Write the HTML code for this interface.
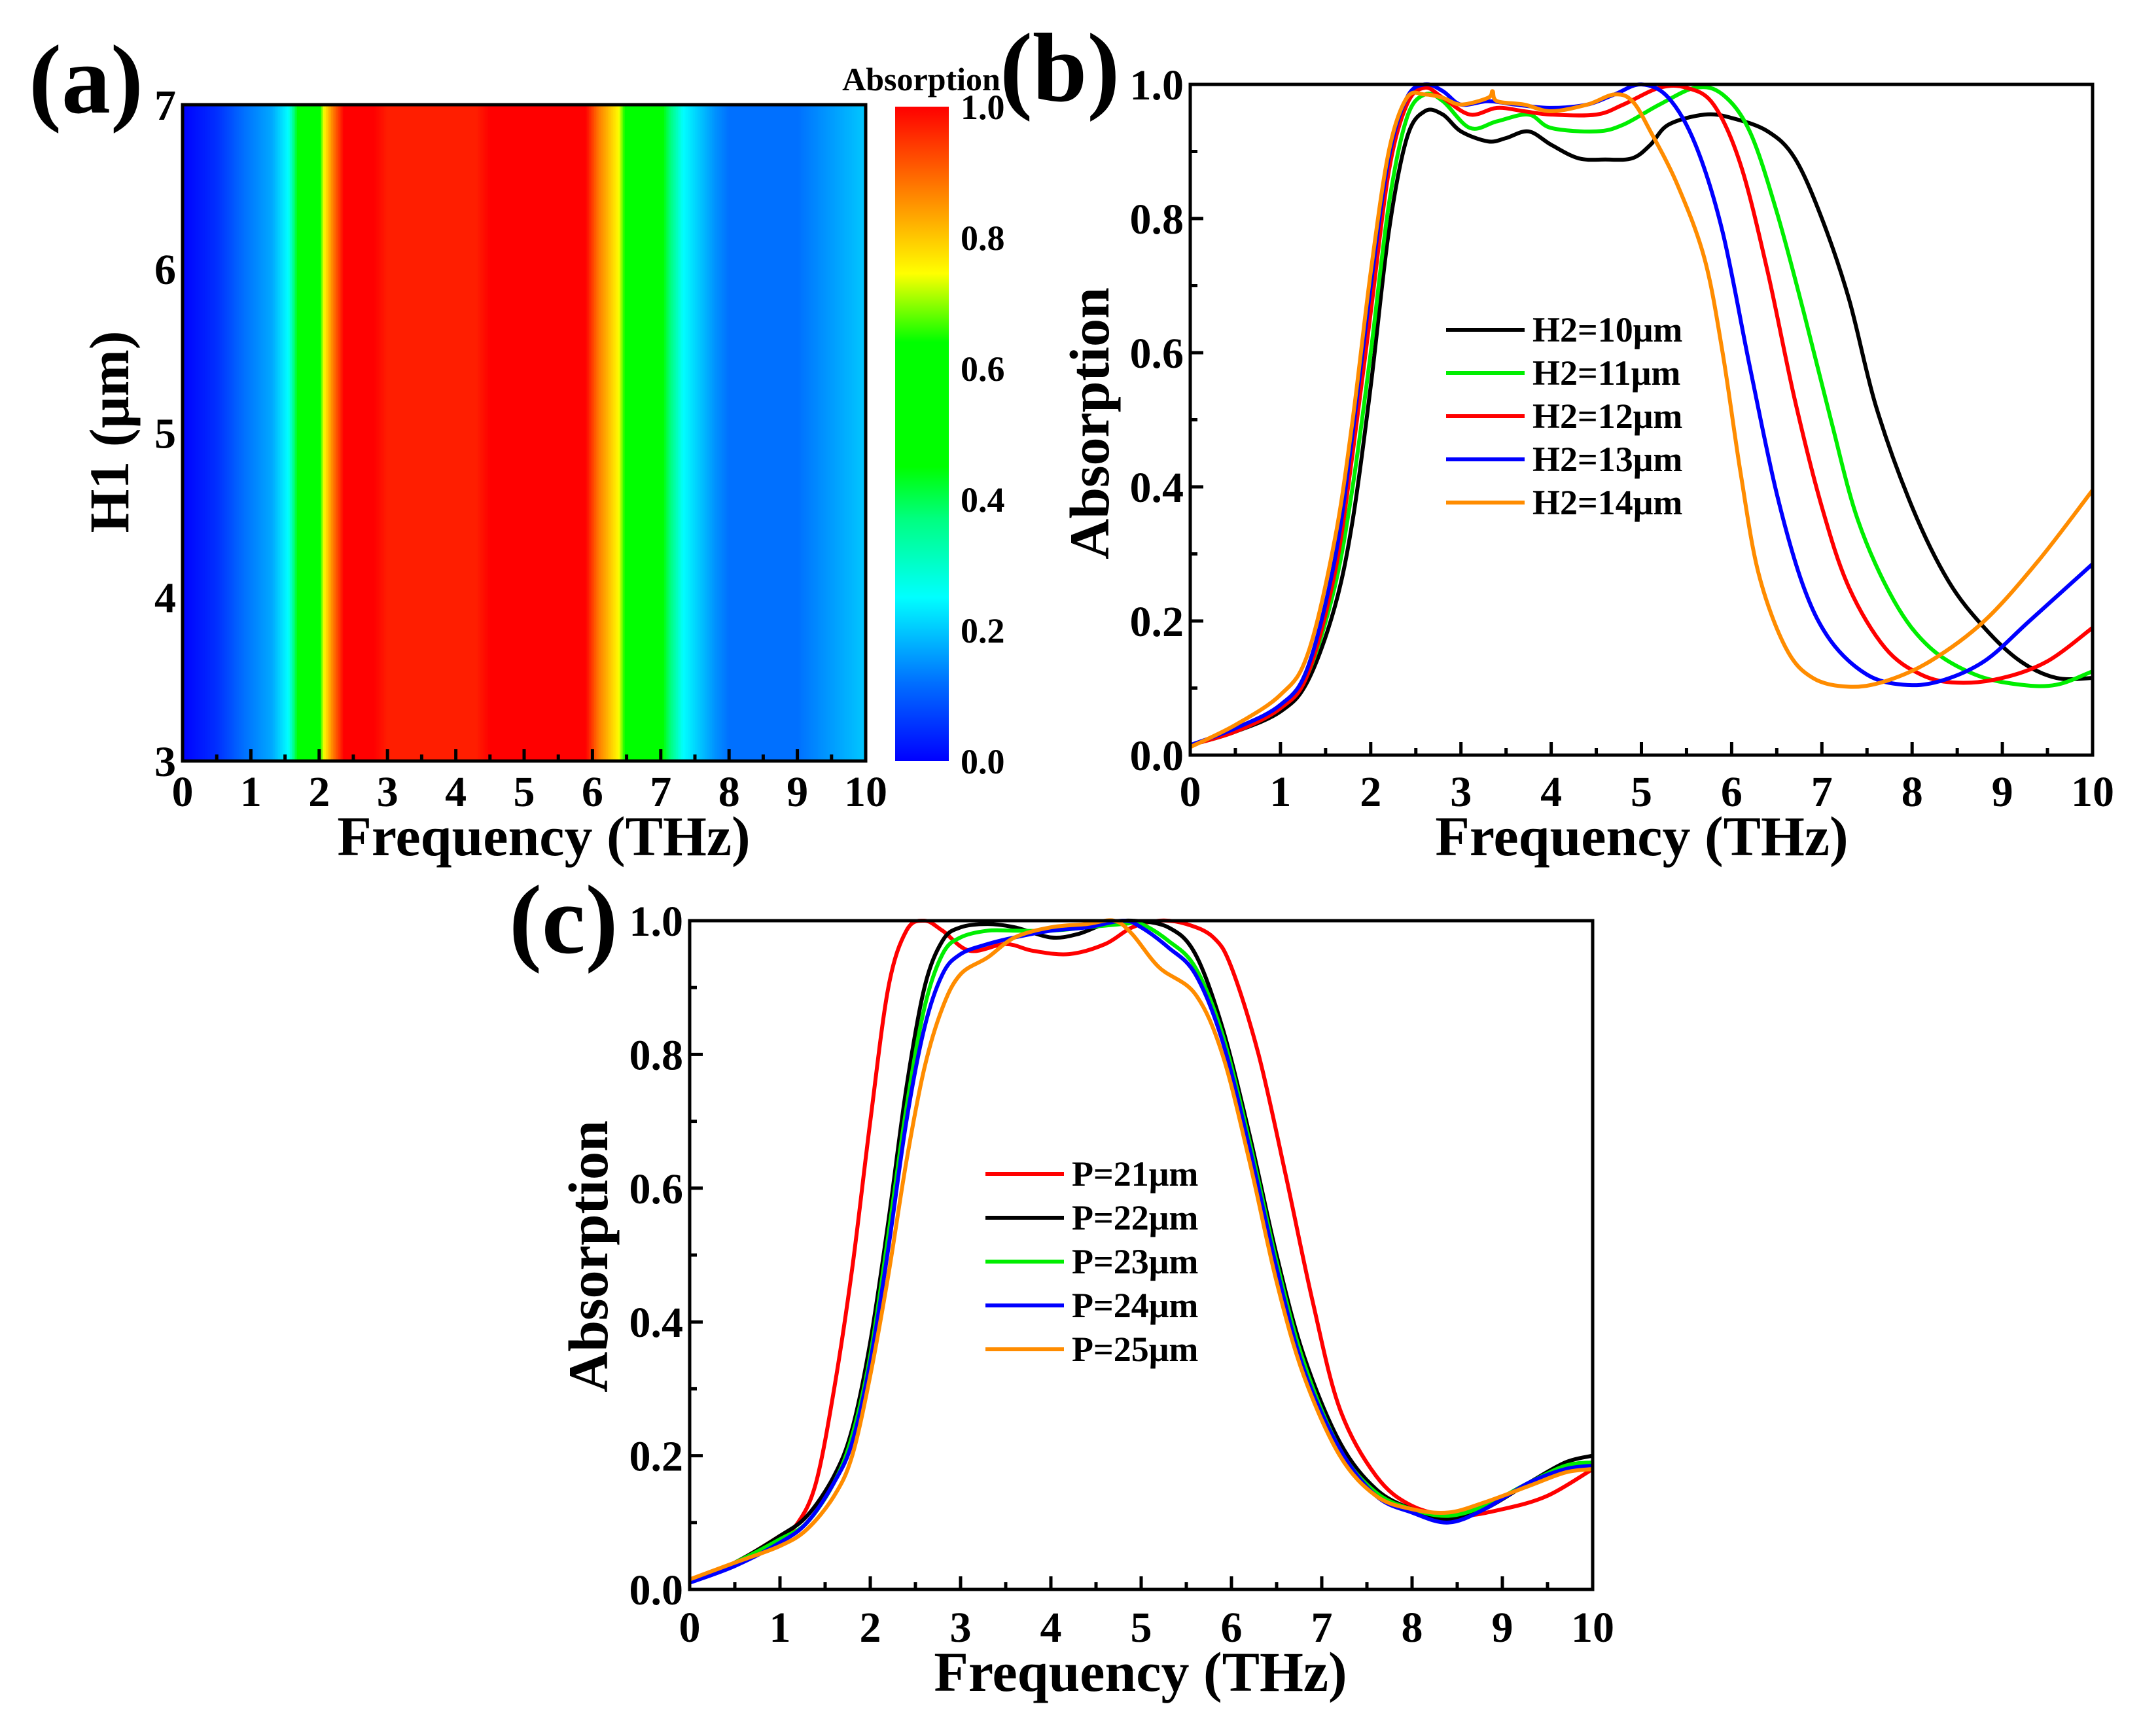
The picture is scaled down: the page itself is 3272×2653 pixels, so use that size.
<!DOCTYPE html>
<html><head><meta charset="utf-8">
<style>
html,body{margin:0;padding:0;background:#fff;}
svg{display:block;}
text{font-family:"Liberation Serif",serif;font-weight:bold;fill:#000;}
</style></head>
<body>
<svg id="fig" width="3272" height="2653" viewBox="0 0 3272 2653" xmlns="http://www.w3.org/2000/svg">
<defs>
<linearGradient id="cbg" x1="0" y1="1" x2="0" y2="0">
<stop offset="0" stop-color="#0000ff"/>
<stop offset="0.12" stop-color="#0070ff"/>
<stop offset="0.25" stop-color="#00ffff"/>
<stop offset="0.37" stop-color="#00ff80"/>
<stop offset="0.45" stop-color="#00ff00"/>
<stop offset="0.64" stop-color="#00ff00"/>
<stop offset="0.745" stop-color="#ffff00"/>
<stop offset="0.87" stop-color="#ff8000"/>
<stop offset="1" stop-color="#ff0000"/>
</linearGradient>
</defs>
<g id="pa"></g>
<g id="pb"></g>
<g id="pc"></g>
</svg>
<script>
// ---- Panel (a) heatmap data ----
const heatFreq = [0,0.5,0.9,1.3,1.55,1.75,1.97,2.07,2.2,2.36,2.8,3.0,4.3,4.5,5.9,6.1,6.38,6.55,6.9,7.1,7.33,7.8,8.0,9.0,10];
const heatVals = [0.0,0.05,0.12,0.17,0.25,0.55,0.55,0.75,0.87,1.0,1.0,0.97,0.97,1.0,1.0,0.87,0.75,0.55,0.55,0.4,0.25,0.15,0.12,0.12,0.2];
const heatYTicks = [3,4,5,6,7];
const cbTicks = ["0.0","0.2","0.4","0.6","0.8","1.0"];
const freqTicks = [0,1,2,3,4,5,6,7,8,9,10];
const absTicks = ["0.0","0.2","0.4","0.6","0.8","1.0"];

// ---- Panel (b) ----
const bNames = ["H2=10\u03bcm","H2=11\u03bcm","H2=12\u03bcm","H2=13\u03bcm","H2=14\u03bcm"];
const bColors = ["#000000","#00ee00","#ff0000","#0000ff","#ff8c00"];
const b10x = [0,0.5,1,1.3,1.6,1.8,2,2.2,2.4,2.6,2.8,3.0,3.3,3.5,3.75,4.0,4.3,4.6,4.9,5.1,5.3,5.7,6.0,6.4,6.7,7.0,7.3,7.6,8.0,8.4,8.8,9.2,9.6,10];
const b10y = [0.015,0.035,0.065,0.11,0.22,0.35,0.55,0.78,0.92,0.96,0.955,0.93,0.915,0.92,0.93,0.91,0.89,0.888,0.89,0.91,0.94,0.955,0.95,0.93,0.89,0.8,0.68,0.52,0.37,0.26,0.19,0.14,0.115,0.115];
const b11x = [0,0.5,1,1.3,1.6,1.8,2,2.2,2.4,2.6,2.8,3.1,3.4,3.75,4.0,4.5,4.8,5.2,5.6,5.9,6.2,6.5,6.8,7.1,7.4,7.8,8.2,8.7,9.2,9.6,10];
const b11y = [0.015,0.035,0.07,0.12,0.25,0.4,0.6,0.82,0.95,0.985,0.975,0.935,0.945,0.955,0.935,0.93,0.94,0.97,0.995,0.985,0.93,0.81,0.66,0.5,0.35,0.23,0.16,0.12,0.105,0.105,0.125];
const b12x = [0,0.5,1,1.3,1.6,1.8,2,2.2,2.4,2.6,2.8,3.1,3.4,3.7,4.0,4.5,4.8,5.2,5.5,5.8,6.1,6.4,6.7,7.0,7.3,7.7,8.1,8.5,9.0,9.5,10];
const b12y = [0.015,0.035,0.07,0.12,0.27,0.45,0.66,0.87,0.97,0.995,0.98,0.955,0.965,0.96,0.955,0.955,0.97,0.995,0.995,0.97,0.88,0.72,0.53,0.37,0.25,0.16,0.12,0.108,0.115,0.14,0.19];
const b13x = [0,0.5,1,1.3,1.6,1.8,2,2.2,2.4,2.6,2.8,3.0,3.3,3.6,4.0,4.4,4.7,5.0,5.3,5.6,5.9,6.2,6.5,6.8,7.1,7.5,7.9,8.3,8.8,9.3,10];
const b13y = [0.015,0.04,0.075,0.13,0.29,0.48,0.7,0.89,0.98,1.0,0.99,0.97,0.975,0.97,0.965,0.97,0.985,1.0,0.98,0.91,0.78,0.58,0.39,0.25,0.17,0.12,0.105,0.11,0.14,0.2,0.285];
const b14x = [0,0.5,1,1.3,1.6,1.8,2,2.2,2.4,2.6,2.8,3.0,3.3,3.35,3.4,3.7,4.0,4.4,4.7,4.9,5.1,5.4,5.7,5.9,6.1,6.3,6.6,6.9,7.3,7.7,8.2,8.8,9.4,10];
const b14y = [0.012,0.045,0.09,0.15,0.32,0.5,0.72,0.9,0.98,0.985,0.98,0.97,0.98,0.99,0.975,0.97,0.96,0.97,0.985,0.975,0.93,0.85,0.74,0.6,0.42,0.27,0.16,0.115,0.102,0.11,0.14,0.2,0.29,0.395];

// ---- Panel (c) ----
const cNames = ["P=21\u03bcm","P=22\u03bcm","P=23\u03bcm","P=24\u03bcm","P=25\u03bcm"];
const cColors = ["#ff0000","#000000","#00ee00","#0000ff","#ff8c00"];
const c21x = [0,0.5,1,1.2,1.4,1.6,1.8,2.0,2.2,2.4,2.6,2.8,3.1,3.5,3.8,4.2,4.6,4.9,5.2,5.5,5.8,6.0,6.3,6.6,6.9,7.2,7.6,8.0,8.5,9.0,9.5,10];
const c21y = [0.012,0.04,0.08,0.1,0.16,0.3,0.48,0.7,0.9,0.985,1.0,0.985,0.955,0.965,0.955,0.95,0.965,0.99,1.0,0.995,0.975,0.93,0.8,0.62,0.43,0.27,0.17,0.125,0.11,0.12,0.14,0.18];
const c22x = [0,0.5,1,1.3,1.6,1.8,2.0,2.2,2.4,2.6,2.8,3.0,3.3,3.6,4.0,4.3,4.6,4.9,5.3,5.6,5.9,6.2,6.5,6.8,7.2,7.6,8.0,8.4,8.8,9.3,9.7,10];
const c22y = [0.012,0.04,0.08,0.11,0.17,0.24,0.37,0.55,0.75,0.9,0.97,0.99,0.995,0.99,0.975,0.98,0.995,1.0,0.99,0.95,0.84,0.68,0.5,0.35,0.22,0.15,0.12,0.105,0.12,0.16,0.19,0.2];
const c23x = [0,0.5,1,1.3,1.6,1.8,2.0,2.2,2.4,2.6,2.8,3.0,3.3,3.6,4.0,4.4,4.8,5.0,5.3,5.6,5.9,6.2,6.5,6.8,7.2,7.6,8.0,8.4,8.8,9.3,9.7,10];
const c23y = [0.012,0.04,0.075,0.1,0.16,0.23,0.35,0.53,0.72,0.87,0.95,0.975,0.985,0.985,0.985,0.99,0.995,0.995,0.97,0.93,0.83,0.67,0.49,0.34,0.21,0.145,0.12,0.11,0.125,0.16,0.185,0.19];
const c24x = [0,0.5,1,1.3,1.6,1.8,2.0,2.2,2.4,2.6,2.8,3.0,3.3,3.6,4.0,4.4,4.8,5.0,5.3,5.6,5.9,6.2,6.5,6.8,7.2,7.6,8.0,8.4,8.8,9.3,9.7,10];
const c24y = [0.01,0.035,0.07,0.1,0.16,0.22,0.34,0.51,0.7,0.84,0.92,0.95,0.965,0.975,0.985,0.99,1.0,0.99,0.96,0.92,0.82,0.66,0.48,0.33,0.21,0.14,0.115,0.1,0.12,0.16,0.18,0.185];
const c25x = [0,0.5,1,1.3,1.6,1.8,2.0,2.2,2.4,2.6,2.8,3.0,3.3,3.6,4.0,4.4,4.7,4.9,5.2,5.6,5.9,6.2,6.5,6.8,7.2,7.6,8.0,8.4,8.8,9.3,9.7,10];
const c25y = [0.015,0.04,0.065,0.09,0.14,0.2,0.32,0.47,0.64,0.78,0.87,0.92,0.945,0.975,0.99,0.995,1.0,0.98,0.93,0.89,0.8,0.64,0.46,0.32,0.2,0.14,0.12,0.115,0.13,0.155,0.175,0.18];

const NS = "http://www.w3.org/2000/svg";
function mk(parent, tag, attrs, txt){
  const e = document.createElementNS(NS, tag);
  for (const k in attrs) e.setAttribute(k, attrs[k]);
  if (txt !== undefined) e.textContent = txt;
  parent.appendChild(e);
  return e;
}
const cmapStops = [[0,[0,0,255]],[0.12,[0,112,255]],[0.25,[0,255,255]],[0.37,[0,255,128]],[0.45,[0,255,0]],[0.64,[0,255,0]],[0.745,[255,255,0]],[0.87,[255,128,0]],[1,[255,0,0]]];
function cmap(v){
  v = Math.max(0, Math.min(1, v));
  for (let i=1;i<cmapStops.length;i++){
    if (v <= cmapStops[i][0]){
      const a=cmapStops[i-1], b=cmapStops[i], t=(v-a[0])/(b[0]-a[0]||1);
      const c=a[1].map((x,j)=>Math.round(x+(b[1][j]-x)*t));
      return `rgb(${c[0]},${c[1]},${c[2]})`;
    }
  }
  return "rgb(255,0,0)";
}
function interp(xs, ys, x){
  for (let i=1;i<xs.length;i++) if (x<=xs[i]){const t=(x-xs[i-1])/(xs[i]-xs[i-1]);return ys[i-1]+(ys[i]-ys[i-1])*t;}
  return ys[ys.length-1];
}
function pathFrom(pts){
  let d = `M${pts[0][0].toFixed(1)},${pts[0][1].toFixed(1)}`;
  for (let i=0;i<pts.length-1;i++){
    const p0=pts[Math.max(0,i-1)], p1=pts[i], p2=pts[i+1], p3=pts[Math.min(pts.length-1,i+2)];
    const c1=[p1[0]+(p2[0]-p0[0])/6, p1[1]+(p2[1]-p0[1])/6];
    const c2=[p2[0]-(p3[0]-p1[0])/6, p2[1]-(p3[1]-p1[1])/6];
    d += ` C${c1[0].toFixed(1)},${c1[1].toFixed(1)} ${c2[0].toFixed(1)},${c2[1].toFixed(1)} ${p2[0].toFixed(1)},${p2[1].toFixed(1)}`;
  }
  return d;
}
const TICKF = 66, TITLEF = 86, PANELF = 150;

function axesFrame(g, L, R, T, B, xTicks, yTicksVals, yLabels, yMin, yMax, xLabY){
  const sx = v => L + (v - 0) / 10 * (R - L);
  const sy = v => B - (v - yMin) / (yMax - yMin) * (B - T);
  const tk = mk(g, "g", {stroke:"#000","stroke-width":5});
  
  
  xTicks.forEach(v=>{ mk(tk,"line",{x1:sx(v),x2:sx(v),y1:B,y2:B-20}); if(v<10) mk(tk,"line",{x1:sx(v+0.5),x2:sx(v+0.5),y1:B,y2:B-11}); });
  yTicksVals.forEach((v,i)=>{ mk(tk,"line",{x1:L,x2:L+20,y1:sy(v),y2:sy(v)}); if(i<yTicksVals.length-1){const m=(v+yTicksVals[i+1])/2; mk(tk,"line",{x1:L,x2:L+11,y1:sy(m),y2:sy(m)});} });
  const xl = mk(g, "g", {"font-size":TICKF,"text-anchor":"middle"});
  
  
  xTicks.forEach(v=> mk(xl,"text",{x:sx(v),y:xLabY},String(v)));
  const yl = mk(g, "g", {"font-size":TICKF,"text-anchor":"end"});
  
  
  yTicksVals.forEach((v,i)=> mk(yl,"text",{x:L-10,y:sy(v)+23},yLabels[i]));
  return {sx, sy};
}
function border(g,L,R,T,B){
  const r = mk(g,"rect",{x:L,y:T,width:R-L,height:B-T,fill:"none",stroke:"#000","stroke-width":5});
  
  
}
function titles(g, xt, xty, xtx, yt, ytx, yty){
  const a = mk(g,"text",{x:xtx,y:xty,"font-size":TITLEF,"text-anchor":"middle"},xt);
  
  
  const b = mk(g,"text",{x:ytx,y:yty,"font-size":TITLEF,"text-anchor":"middle",transform:`rotate(-90 ${ytx} ${yty})`},yt);
  
  
}

// ---- Panel A ----
(function(){
  const g = document.getElementById("pa");
  const L=279,R=1323,T=160,B=1163;
  const hm = mk(g,"g",{});
  
  
  const N=400, w=(R-L)/N;
  for (let i=0;i<N;i++){
    const f=(i+0.5)/N*10;
    const r=mk(hm,"rect",{x:(L+i*w).toFixed(2),y:T,width:(w+0.8).toFixed(2),height:B-T,fill:cmap(interp(heatFreq,heatVals,f))});
    
    
  }
  const sy = v => B - (v-3)/4*(B-T);
  const sx = v => L + v/10*(R-L);
  const tk = mk(g,"g",{stroke:"#000","stroke-width":5});
  
  
  freqTicks.forEach(v=>{mk(tk,"line",{x1:sx(v),x2:sx(v),y1:B,y2:B-18}); if(v<10) mk(tk,"line",{x1:sx(v+0.5),x2:sx(v+0.5),y1:B,y2:B-10});});
  const xl = mk(g,"g",{"font-size":TICKF,"text-anchor":"middle"});
  
  
  freqTicks.forEach(v=>mk(xl,"text",{x:sx(v),y:1232},String(v)));
  const yl = mk(g,"g",{"font-size":TICKF,"text-anchor":"end"});
  
  
  heatYTicks.forEach(v=>mk(yl,"text",{x:L-10,y:sy(v)+23},String(v)));
  border(g,L,R,T,B);
  titles(g,"Frequency (THz)",1307,831,"H1 (\u03bcm)",196,660);
  const cb = mk(g,"rect",{x:1368,y:163,width:82,height:1000,fill:"url(#cbg)"});
  
  
  const cl = mk(g,"g",{"font-size":54,"text-anchor":"start"});
  
  
  cbTicks.forEach((t,i)=>mk(cl,"text",{x:1468,y:1163-i/5*1000+19},t));
  const ct = mk(g,"text",{x:1408,y:138,"font-size":50,"text-anchor":"middle"},"Absorption");
  
  
  const pl = mk(g,"text",{x:44,y:172,"font-size":PANELF},"(a)");
  
  
})();

function linePanel(gid, L,R,T,B, xLabY, xs, ys, colors, names, legX, legY, legStep, xtY, xtX, ytX, ytY, label, lx, ly){
  const g = document.getElementById(gid);
  const yvals=[0,0.2,0.4,0.6,0.8,1.0];
  const {sx,sy} = axesFrame(g,L,R,T,B,freqTicks,yvals,absTicks,0,1,xLabY);
  const cg = mk(g,"g",{fill:"none","stroke-width":6,"stroke-linejoin":"round"});
  
  
  xs.forEach((xa,k)=>{
    const pts = xa.map((x,i)=>[sx(x),sy(ys[k][i])]);
    const p = mk(cg,"path",{d:pathFrom(pts),stroke:colors[k]});
    
    
  });
  border(g,L,R,T,B);
  const lg = mk(g,"g",{"font-size":54});
  
  
  names.forEach((n,k)=>{
    const e = mk(lg,"g",{});
    
    
    mk(e,"line",{x1:legX,x2:legX+120,y1:legY+k*legStep,y2:legY+k*legStep,stroke:colors[k],"stroke-width":6});
    mk(e,"text",{x:legX+132,y:legY+k*legStep+18},n);
  });
  titles(g,"Frequency (THz)",xtY,xtX,"Absorption",ytX,ytY);
  const pl = mk(g,"text",{x:lx,y:ly,"font-size":PANELF},label);
  
  
}
linePanel("pb",1819,3198,129,1154,1232,[b10x,b11x,b12x,b13x,b14x],[b10y,b11y,b12y,b13y,b14y],bColors,bNames,2210,504,66,1307,2509,1694,647,"(b)",1528,154);
linePanel("pc",1054,2434,1407,2429,2509,[c21x,c22x,c23x,c24x,c25x],[c21y,c22y,c23y,c24y,c25y],cColors,cNames,1506,1794,67,2584,1743,928,1920,"(c)",778,1456);
</script>
</body></html>
